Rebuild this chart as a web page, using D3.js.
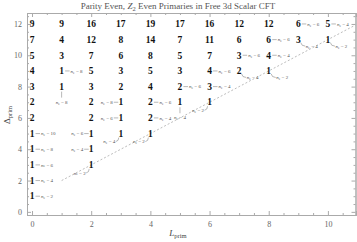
<!DOCTYPE html>
<html lang="en">
<head>
<meta charset="UTF-8">
<title>Parity Even, Z2 Even Primaries</title>
<script src="https://d3js.org/d3.v7.min.js"></script>
<style>
  body { margin: 0; background: #fff; }
  svg { display: block; font-family: "Liberation Serif", "DejaVu Serif", serif; }
  .frame line, .frame path { stroke: #aaa; }
  .tick text { fill: #666; font-size: 8px; font-family: "Liberation Serif", serif; }
</style>
</head>
<body>
<div id="chart"></div>
<script>
// spins L = 0..10, one array of counts per dimension (null = nothing drawn)
const spins = [0, 1, 2, 3, 4, 5, 6, 7, 8, 9, 10];
const delta12 = [9, 9, 16, 17, 19, 17, 16, 12, 12, 6, 5];
const delta11 = [7, 4, 12, 8, 14, 7, 11, 6, 6, 3, 1];
const delta10 = [5, 3, 7, 6, 8, 5, 7, 3, 4];
const delta9  = [4, 1, 5, 3, 5, 3, 4, 2, 1];
const delta8  = [3, 1, 3, 2, 4, 2, 3];
const delta7  = [2, null, 2, 1, 2, 1, 1];
const delta6  = [2, null, 2, 1, 2];
const delta5  = [1, null, 1, 1, 1];
const delta4  = [1, null, 1];
const delta3  = [1, null, 1];
const delta2  = [1];
const delta1  = [1];
const deltaRows = [
  [12, delta12], [11, delta11], [10, delta10], [9, delta9], [8, delta8], [7, delta7],
  [6, delta6], [5, delta5], [4, delta4], [3, delta3], [2, delta2], [1, delta1]
];

// n_e callouts: [L, Delta, n_e], grouped by where the callout sits
const notesRight = [
  [0, 1, 2], [0, 2, 4], [0, 3, 6], [0, 4, 8], [0, 5, 10], [1, 9, 8],
  [4, 6, 4], [4, 7, 6], [5, 8, 6], [6, 8, 4], [6, 9, 6], [7, 10, 6],
  [8, 10, 4], [8, 11, 6], [9, 12, 6], [10, 12, 4]
];
const notesLeft = [[2, 4, 4], [2, 5, 6], [3, 6, 6], [3, 7, 8]];
const notesBelow = [[1, 8, 8], [5, 7, 4]];
const notesCurveLeft = [[2, 3, 2], [3, 5, 4], [4, 5, 2], [6, 7, 2]];
const notesCurveRight = [[7, 9, 4], [8, 9, 2], [9, 11, 4], [10, 11, 2]];

const xTicks = [0, 2, 4, 6, 8, 10];
const yTicks = [0, 2, 4, 6, 8, 10, 12];

const W = 357, H = 242;
const svg = d3.select("#chart").append("svg").attr("width", W).attr("height", H);

const x = d3.scaleLinear().domain([-0.17, 10.95]).range([27, 356]);
const y = d3.scaleLinear().domain([-0.2, 12.7]).range([215, 13]);
const [x0, x1] = x.range(), [y0, y1] = y.range();

const minorX = d3.range(-0.0, 11, 0.5).filter(v => !xTicks.includes(v) && v <= 10.95);
const minorY = d3.range(0, 12.7, 0.5).filter(v => !yTicks.includes(v));

// frame with ticks on all four sides
const frame = svg.append("g").attr("class", "frame");
frame.append("g").attr("transform", `translate(0,${y0})`)
  .call(d3.axisBottom(x).tickValues(xTicks).tickSize(-4).tickPadding(6).tickFormat(d3.format("d")));
frame.append("g").attr("transform", `translate(0,${y0})`)
  .call(d3.axisBottom(x).tickValues(minorX).tickSize(-2).tickFormat(""));
frame.append("g").attr("transform", `translate(${x0},0)`)
  .call(d3.axisLeft(y).tickValues(yTicks).tickSize(-4).tickPadding(5).tickFormat(d3.format("d")));
frame.append("g").attr("transform", `translate(${x0},0)`)
  .call(d3.axisLeft(y).tickValues(minorY).tickSize(-2).tickFormat(""));
frame.append("g").attr("transform", `translate(0,${y1})`)
  .call(d3.axisTop(x).tickValues(xTicks).tickSize(-4).tickFormat(""));
frame.append("g").attr("transform", `translate(0,${y1})`)
  .call(d3.axisTop(x).tickValues(minorX).tickSize(-2).tickFormat(""));
frame.append("g").attr("transform", `translate(${x1 - 0.5},0)`)
  .call(d3.axisRight(y).tickValues(yTicks).tickSize(-4).tickFormat(""));
frame.append("g").attr("transform", `translate(${x1 - 0.5},0)`)
  .call(d3.axisRight(y).tickValues(minorY).tickSize(-2).tickFormat(""));
frame.selectAll(".domain").attr("stroke", "#aaa");
frame.selectAll(".tick line").attr("stroke", "#aaa");

// twist-one line Delta = L + 1
svg.append("line")
  .attr("x1", x(1)).attr("y1", y(2))
  .attr("x2", x(10.95)).attr("y2", y(11.95))
  .attr("stroke", "#b4b4b4").attr("stroke-width", 0.9)
  .attr("stroke-dasharray", "2,2");

// counts
const cells = [];
deltaRows.forEach(([d, row]) => row.forEach((v, i) => {
  if (v != null) cells.push({ L: spins[i], D: d, v });
}));
svg.append("g").selectAll("text").data(cells).join("text")
  .attr("x", c => x(c.L)).attr("y", c => y(c.D)).attr("dy", "0.34em")
  .attr("text-anchor", "middle")
  .attr("font-size", 9.5).attr("font-weight", "bold").attr("fill", "#111")
  .text(c => c.v);

// callouts
const notes = svg.append("g").attr("fill", "#555").attr("font-size", 5);
const link = svg.append("g").attr("stroke", "#888").attr("stroke-width", 0.6).attr("fill", "none");

function neLabel(px, py, ne, anchor) {
  const t = notes.append("text").attr("x", px).attr("y", py).attr("dy", "0.34em")
    .attr("text-anchor", anchor);
  t.append("tspan").attr("font-style", "italic").text("n");
  t.append("tspan").attr("font-size", 3.6).attr("dy", "0.25em").text("e");
  t.append("tspan").attr("dy", "-0.18em").text(" = " + ne);
}

notesRight.forEach(([L, D, ne]) => {
  const cx = x(L), cy = y(D);
  link.append("line").attr("x1", cx + 3.5).attr("x2", cx + 8).attr("y1", cy).attr("y2", cy);
  neLabel(cx + 9, cy, ne, "start");
});
notesLeft.forEach(([L, D, ne]) => {
  const cx = x(L), cy = y(D);
  link.append("line").attr("x1", cx - 7).attr("x2", cx - 2.5).attr("y1", cy).attr("y2", cy);
  neLabel(cx - 8, cy, ne, "end");
});
notesBelow.forEach(([L, D, ne]) => {
  const cx = x(L), cy = y(D);
  link.append("line").attr("x1", cx).attr("x2", cx).attr("y1", cy + 5).attr("y2", cy + 11);
  neLabel(cx, cy + 15.5, ne, "middle");
});
notesCurveLeft.forEach(([L, D, ne]) => {
  const cx = x(L), cy = y(D);
  link.append("path").attr("d", `M${cx - 5},${cy + 8} Q${cx - 2},${cy + 7.5} ${cx - 2},${cy + 4}`);
  neLabel(cx - 5.5, cy + 8, ne, "end");
});
notesCurveRight.forEach(([L, D, ne]) => {
  const cx = x(L), cy = y(D);
  link.append("path").attr("d", `M${cx + 2.5},${cy + 3} Q${cx + 3},${cy + 6.5} ${cx + 7},${cy + 6.5}`);
  neLabel(cx + 7.5, cy + 6.5, ne, "start");
});

// title and axis labels
const title = svg.append("text").attr("x", 178).attr("y", 9)
  .attr("text-anchor", "middle").attr("font-size", 9).attr("fill", "#555");
title.append("tspan").text("Parity Even, ");
title.append("tspan").attr("font-style", "italic").text("Z");
title.append("tspan").attr("font-size", 6.5).attr("dy", 2).text("2");
title.append("tspan").attr("dy", -2).text(" Even Primaries in Free 3d Scalar CFT");

const xl = svg.append("text").attr("x", 178).attr("y", 236)
  .attr("text-anchor", "middle").attr("font-size", 9).attr("fill", "#444");
xl.append("tspan").attr("font-style", "italic").text("L");
xl.append("tspan").attr("font-size", 6.5).attr("dy", 2).text("prim");

const yl = svg.append("text").attr("transform", "translate(10,115) rotate(-90)")
  .attr("text-anchor", "middle").attr("font-size", 9).attr("fill", "#444");
yl.append("tspan").text("Δ");
yl.append("tspan").attr("font-size", 6.5).attr("dy", 2).text("prim");
</script>
</body>
</html>
